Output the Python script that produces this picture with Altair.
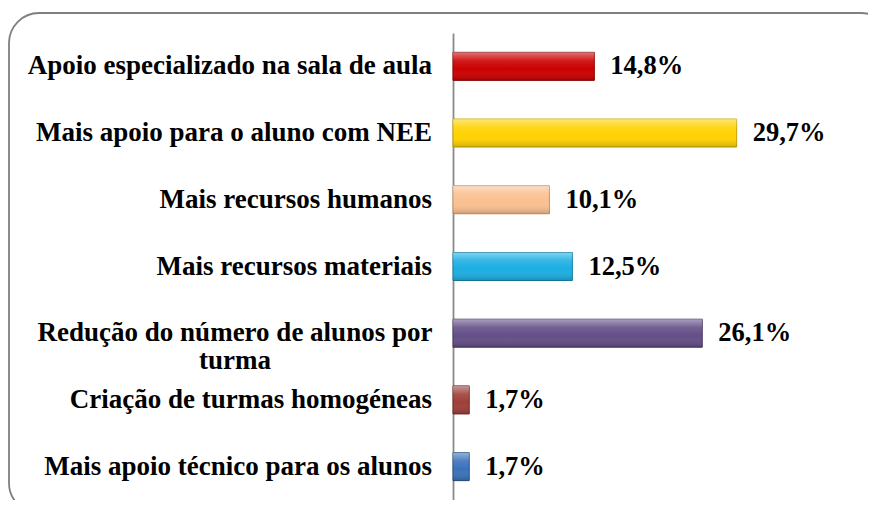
import altair as alt
import pandas as pd

categories = [
    "Apoio especializado na sala de aula",
    "Mais  apoio para o aluno com NEE",
    "Mais recursos humanos",
    "Mais recursos materiais",
    "Redução do número de alunos por turma",
    "Criação de turmas homogéneas",
    "Mais apoio técnico para os alunos",
]
label_text = [
    "Apoio especializado na sala de aula",
    "Mais  apoio para o aluno com NEE",
    "Mais recursos humanos",
    "Mais recursos materiais",
    "Redução do número de alunos por\nturma",
    "Criação de turmas homogéneas",
    "Mais apoio técnico para os alunos",
]
values = [14.8, 29.7, 10.1, 12.5, 26.1, 1.7, 1.7]
value_labels = ["14,8%", "29,7%", "10,1%", "12,5%", "26,1%", "1,7%", "1,7%"]
bar_colors = ["#CC0000", "#FFD200", "#FAC090", "#1CAEE2", "#634E86", "#A03E3A", "#3A72BA"]
edge_colors = ["#8C0000", "#C9A000", "#C8946A", "#137FA8", "#47375F", "#70292A", "#254F85"]

df = pd.DataFrame({
    "cat": categories,
    "label": label_text,
    "value": values,
    "vlabel": value_labels,
    "fill": bar_colors,
    "edge": edge_colors,
    "wrap": ["\n" in t for t in label_text],
})

FONT = "Liberation Serif"

y_enc = alt.Y("cat:N", sort=categories,
              scale=alt.Scale(domain=categories, paddingInner=0.58, paddingOuter=0.29),
              axis=alt.Axis(labels=False, ticks=False, title=None, domainColor="#8A8A8A",
                            domainWidth=1.8, grid=False))
x_enc = alt.X("value:Q", scale=alt.Scale(domain=[0, 40]), axis=None)

base = alt.Chart(df)

bars = base.mark_bar(strokeWidth=1).encode(
    y=y_enc, x=x_enc,
    color=alt.Color("fill:N", scale=None),
    stroke=alt.Stroke("edge:N", scale=None),
)

shine = base.mark_bar(
    color=alt.Gradient(
        gradient="linear", x1=0, y1=0, x2=0, y2=1,
        stops=[
            alt.GradientStop(color="rgba(255,255,255,0.45)", offset=0),
            alt.GradientStop(color="rgba(255,255,255,0.10)", offset=0.3),
            alt.GradientStop(color="rgba(255,255,255,0.0)", offset=0.6),
            alt.GradientStop(color="rgba(0,0,0,0.18)", offset=1),
        ],
    )
).encode(y=y_enc, x=x_enc)

vals = base.mark_text(align="left", baseline="middle", dx=16, font=FONT,
                      fontWeight="bold", fontSize=26.5, color="black").encode(
    y=y_enc, x=x_enc, text="vlabel:N")

cat_single = base.transform_filter("!datum.wrap").mark_text(
    align="right", baseline="middle", font=FONT, fontWeight="bold", fontSize=27,
    color="black").encode(y=y_enc, x=alt.value(-21), text="label:N")

cat_wrap = base.transform_filter("datum.wrap").mark_text(
    align="center", baseline="middle", font=FONT, fontWeight="bold", fontSize=27,
    color="black", lineBreak="\n", lineHeight=28).encode(
    y=y_enc, x=alt.value(-218), text="label:N")

border = alt.Chart(alt.Data(values=[{}])).mark_rect(
    cornerRadius=30, fillOpacity=0, stroke="#7F7F7F", strokeWidth=1.8
).encode(x=alt.value(-444), x2=alt.value(438), y=alt.value(-20), y2=alt.value(480))

chart = alt.layer(border, bars, shine, vals, cat_single, cat_wrap).properties(
    width=382, height=467,
    background="white",
    autosize=alt.AutoSizeParams(type="none"),
    padding={"left": 445, "top": 25, "right": 33, "bottom": 0},
).configure_view(stroke=None)

chart.save("out.html", embed_options={"renderer": "svg", "actions": False})
